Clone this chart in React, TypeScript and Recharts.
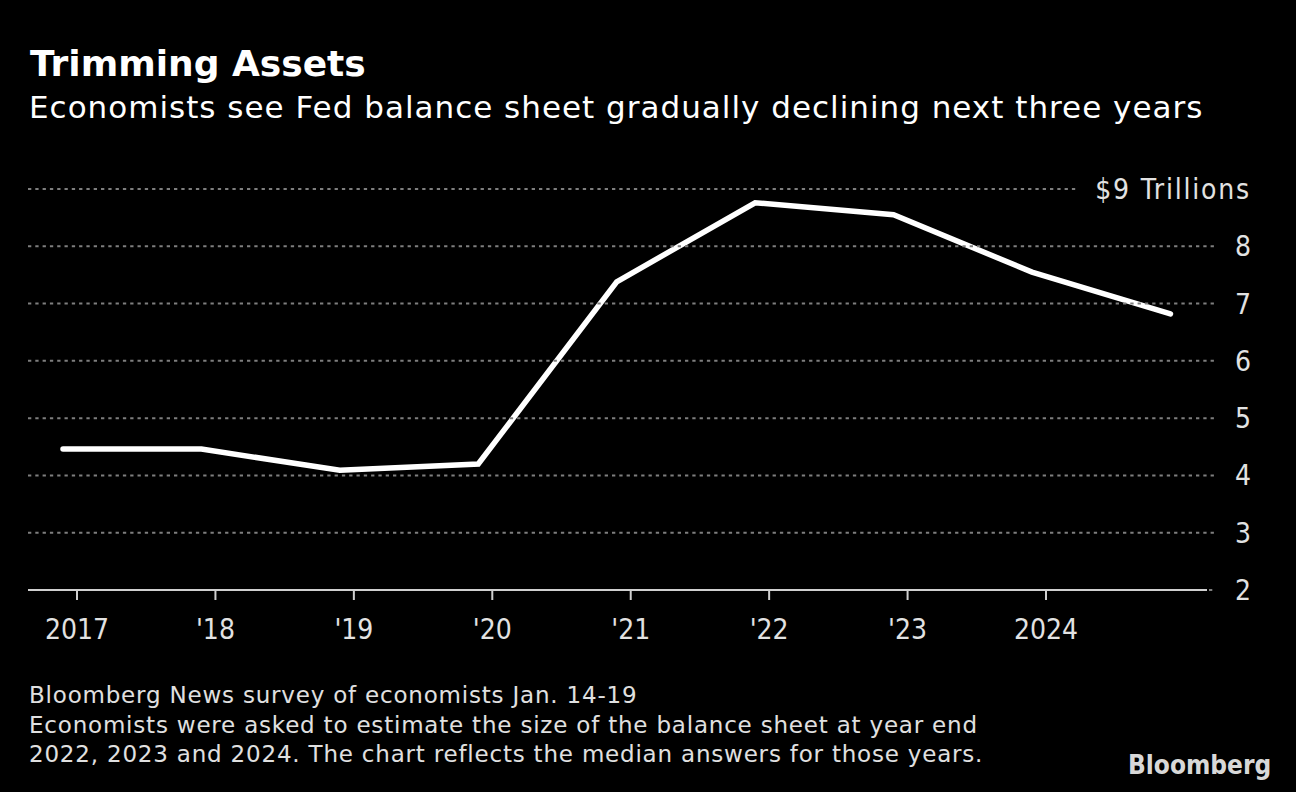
import React from 'react';
import { LineChart, Line, XAxis, YAxis } from 'recharts';

// Year-end observations (median survey answers for 2022-2024)
const observationDates = [
  '2016-11-25', '2017-11-25', '2018-11-25', '2019-11-25', '2020-11-25',
  '2021-11-25', '2022-11-25', '2023-11-25', '2024-11-25',
];
const balanceSheetTrillions = [4.46, 4.46, 4.09, 4.2, 7.38, 8.76, 8.55, 7.55, 6.82];

const xTickYears = [2017, 2018, 2019, 2020, 2021, 2022, 2023, 2024];
const xTickLabels = ['2017', "'18", "'19", "'20", "'21", "'22", "'23", '2024'];
const yTicks = [2, 3, 4, 5, 6, 7, 8, 9];
const yTopLabel = '$9 Trillions';

const title = 'Trimming Assets';
const subtitle = 'Economists see Fed balance sheet gradually declining next three years';
const footnotes = [
  'Bloomberg News survey of economists Jan. 14-19',
  'Economists were asked to estimate the size of the balance sheet at year end',
  '2022, 2023 and 2024. The chart reflects the median answers for those years.',
];
const brand = 'Bloomberg';

function toFractionalYear(s: string): number {
  const d = new Date(s + 'T00:00:00Z');
  const y = d.getUTCFullYear();
  const start = Date.UTC(y, 0, 1);
  const end = Date.UTC(y + 1, 0, 1);
  return y + (d.getTime() - start) / (end - start);
}

const data = observationDates.map((d, i) => ({ t: toFractionalYear(d), v: balanceSheetTrillions[i] }));

const W = 1296;
const H = 792;
const PLOT_LEFT = 28;
const Y_AXIS_W = 89;
const CHART_H = 660;
const MARGIN_TOP = 189;
const X_AXIS_H = 70;

const condensed = '"DejaVu Sans Condensed", "DejaVu Sans", sans-serif';
const regular = '"DejaVu Sans", sans-serif';
const tickColor = '#e2e2e2';
const gridColor = '#7e7e7e';

const YTick = (props: any) => {
  const { x, y, payload } = props;
  const v = payload.value;
  const isTop = v === yTicks[yTicks.length - 1];
  const isBottom = v === yTicks[0];
  const x1 = isBottom ? x + 2 : PLOT_LEFT;
  const x2 = isTop ? x - 128 : x + 9;
  return (
    <g>
      <line x1={x1} x2={x2} y1={y} y2={y} stroke={gridColor} strokeWidth={2} strokeDasharray="3.3 4" />
      <text
        x={x + 44}
        y={y}
        dy={10}
        textAnchor="end"
        fill={tickColor}
        fontSize={28}
        fontFamily={condensed}
        letterSpacing={isTop ? 1.8 : 0}
      >
        {isTop ? yTopLabel : String(v)}
      </text>
    </g>
  );
};

const XTick = (props: any) => {
  const { x, y, payload } = props;
  const idx = xTickYears.indexOf(payload.value);
  return (
    <text x={x} y={y} dy={39} textAnchor="middle" fill={tickColor} fontSize={28} fontFamily={condensed}>
      {idx >= 0 ? xTickLabels[idx] : ''}
    </text>
  );
};

export default function App() {
  return (
    <div style={{ position: 'absolute', left: 0, top: 0, width: W, height: H, background: '#000', overflow: 'hidden' }}>
      <div style={{ position: 'absolute', left: 0, top: 0 }}>
        <LineChart
          width={W}
          height={CHART_H}
          data={data}
          margin={{ top: MARGIN_TOP, right: 0, bottom: 0, left: PLOT_LEFT }}
        >
          <XAxis
            dataKey="t"
            type="number"
            domain={[2016.646, 2025.163]}
            ticks={xTickYears}
            allowDataOverflow
            height={X_AXIS_H}
            tickSize={10}
            tickMargin={0}
            stroke="#d0d0d0"
            strokeWidth={2}
            tick={<XTick />}
            tickLine={{ stroke: '#d0d0d0', strokeWidth: 2 }}
            axisLine={{ stroke: '#d0d0d0', strokeWidth: 2 }}
          />
          <YAxis
            orientation="right"
            type="number"
            domain={[2, 9]}
            ticks={yTicks}
            width={Y_AXIS_W}
            axisLine={false}
            tickLine={false}
            tickSize={0}
            tickMargin={0}
            tick={<YTick />}
            interval={0}
          />
          <Line
            type="linear"
            dataKey="v"
            stroke="#ffffff"
            strokeWidth={5.5}
            strokeLinecap="round"
            strokeLinejoin="miter"
            dot={false}
            activeDot={false}
            isAnimationActive={false}
          />
        </LineChart>
      </div>
      <svg width={W} height={H} style={{ position: 'absolute', left: 0, top: 0, pointerEvents: 'none' }}>
        <text x={30} y={76} fill="#ffffff" fontSize={36} fontWeight="bold" fontFamily={regular}>{title}</text>
        <text x={29} y={118} fill="#ffffff" fontSize={31} letterSpacing={1.0} fontFamily={regular}>{subtitle}</text>
        {footnotes.map((f, i) => (
          <text key={i} x={29} y={703 + i * 29.5} fill="#e0e0e0" fontSize={23} letterSpacing={0.8} fontFamily={regular}>{f}</text>
        ))}
        <text x={1128} y={774} fill="#d8d8d8" fontSize={26} fontWeight="bold" fontFamily={condensed}>{brand}</text>
      </svg>
    </div>
  );
}
